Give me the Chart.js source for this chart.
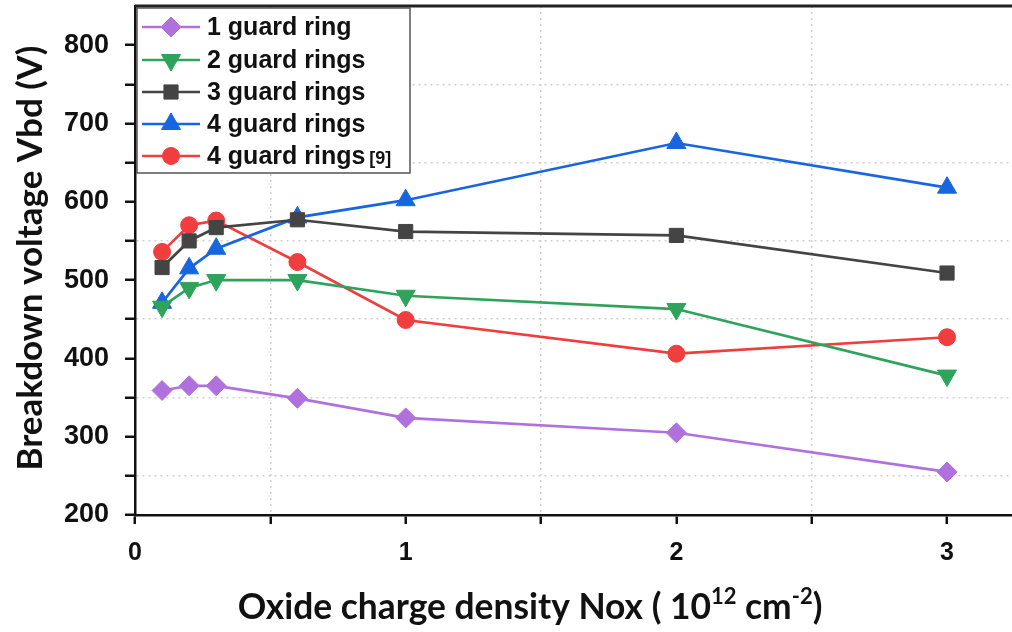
<!DOCTYPE html>
<html>
<head>
<meta charset="utf-8">
<script src="https://cdn.jsdelivr.net/npm/chart.js@4/dist/chart.umd.min.js"></script>
<style>
html,body{margin:0;padding:0;background:#fff;}
#wrap{position:relative;width:1012px;height:632px;}
</style>
</head>
<body>
<div id="wrap"><canvas id="c" width="1012" height="632"></canvas></div>
<script>
const xValues = [0.1, 0.2, 0.3, 0.6, 1, 2, 3];
const oneRing = [359, 365, 365, 349, 324, 305, 255];
const twoRings = [466, 490, 500, 500, 480, 463, 378];
const threeRings = [516, 550, 567, 577, 562, 557, 509];
const fourRings = [471, 515, 540, 580, 602, 675, 618];
const fourRingsRef = [536, 570, 576, 523, 449, 406, 427];
const seriesNames = ['1 guard ring', '2 guard rings', '3 guard rings', '4 guard rings', '4 guard rings'];
const xTickValues = [0, 0.5, 1, 1.5, 2, 2.5, 3];
const xTickLabels = ['0', '1', '2', '3'];
const yTickLabels = ['200', '300', '400', '500', '600', '700', '800'];
const yTitle = 'Breakdown voltage Vbd (V)';

const colors = ['#b171dd', '#2ea35c', '#444444', '#1766e0', '#f03e3e'];
const styles = ['rectRot', 'triangle', 'rect', 'triangle', 'circle'];
const rotations = [0, 180, 0, 0, 0];
const radii = [10, 11, 10, 11, 8.5];
const allData = [oneRing, twoRings, threeRings, fourRings, fourRingsRef];

function mk(i) {
  return {
    label: seriesNames[i],
    data: xValues.map((x, k) => ({x: x, y: allData[i][k]})),
    borderColor: colors[i],
    backgroundColor: colors[i],
    borderWidth: 2.7,
    pointStyle: styles[i],
    rotation: rotations[i],
    pointRadius: radii[i],
    pointBorderWidth: 1,
    pointBorderColor: colors[i],
    tension: 0
  };
}

const TITLE_FONT = '"Lato", "Open Sans", sans-serif';

function fitFont(ctx, text, target, weight, family) {
  ctx.font = weight + ' 20px ' + family;
  const w = ctx.measureText(text).width;
  return 20 * target / w;
}

const decor = {
  id: 'decor',
  afterDraw(chart) {
    const ctx = chart.ctx;
    const ca = chart.chartArea;
    ctx.save();
    // top frame
    ctx.strokeStyle = '#222';
    ctx.lineWidth = 3;
    ctx.beginPath();
    ctx.moveTo(ca.left, ca.top);
    ctx.lineTo(ca.right, ca.top);
    ctx.stroke();

    // legend
    const lx = 137, ly = 8, lw = 273, lh = 165;
    ctx.fillStyle = '#fff';
    ctx.fillRect(lx, ly, lw, lh);
    ctx.strokeStyle = '#555';
    ctx.lineWidth = 1.5;
    ctx.strokeRect(lx, ly, lw, lh);
    const rowY = [27, 60, 92, 124, 156];
    for (let i = 0; i < 5; i++) {
      const y = rowY[i];
      ctx.strokeStyle = colors[i];
      ctx.lineWidth = 2.7;
      ctx.beginPath();
      ctx.moveTo(142, y);
      ctx.lineTo(200, y);
      ctx.stroke();
      ctx.fillStyle = colors[i];
      ctx.strokeStyle = colors[i];
      ctx.lineWidth = 1;
      Chart.helpers.drawPoint(ctx, {pointStyle: styles[i], rotation: rotations[i], radius: radii[i], borderWidth: 1}, 171, y);
      ctx.fillStyle = '#111';
      ctx.font = 'bold 25px "Liberation Sans", Arial, sans-serif';
      ctx.textBaseline = 'middle';
      ctx.textAlign = 'left';
      ctx.fillText(seriesNames[i], 207, y + 1);
      if (i === 4) {
        const w = ctx.measureText(seriesNames[i]).width;
        ctx.font = 'bold 18px "Liberation Sans", Arial, sans-serif';
        ctx.fillText('[9]', 207 + w + 4, y + 3);
      }
    }

    // y title
    const ys = fitFont(ctx, yTitle, 425, 'bold', TITLE_FONT);
    ctx.save();
    ctx.translate(31, 258);
    ctx.rotate(-Math.PI / 2);
    ctx.fillStyle = '#111';
    ctx.font = 'bold ' + ys + 'px ' + TITLE_FONT;
    ctx.textAlign = 'center';
    ctx.textBaseline = 'middle';
    ctx.fillText(yTitle, 0, 0);
    ctx.restore();

    // x title with superscripts
    const parts = [
      ['Oxide charge density Nox ( 10', 1, 0],
      ['12', 0.62, -0.42],
      [' cm', 1, 0],
      ['-2', 0.62, -0.42],
      [')', 1, 0]
    ];
    const base = 20;
    let total = 0;
    parts.forEach(p => { ctx.font = 'bold ' + (base * p[1]) + 'px ' + TITLE_FONT; total += ctx.measureText(p[0]).width; });
    const fs = base * 585 / total;
    total = 0;
    parts.forEach(p => { ctx.font = 'bold ' + (fs * p[1]) + 'px ' + TITLE_FONT; total += ctx.measureText(p[0]).width; });
    let x = 530 - total / 2;
    ctx.fillStyle = '#111';
    ctx.textAlign = 'left';
    ctx.textBaseline = 'alphabetic';
    parts.forEach(p => {
      ctx.font = 'bold ' + (fs * p[1]) + 'px ' + TITLE_FONT;
      ctx.fillText(p[0], x, 619 + p[2] * fs);
      x += ctx.measureText(p[0]).width;
    });
    ctx.restore();
  }
};

new Chart(document.getElementById('c'), {
  type: 'line',
  data: { datasets: [0, 1, 2, 3, 4].map(mk) },
  plugins: [decor],
  options: {
    responsive: false,
    animation: false,
    layout: { autoPadding: false, padding: { top: 6, right: 0, left: 0, bottom: 0 } },
    plugins: { legend: { display: false }, tooltip: { enabled: false } },
    scales: {
      x: {
        type: 'linear',
        min: 0, max: 3.24,
        afterBuildTicks: s => { s.ticks = xTickValues.map(v => ({value: v})); },
        afterFit: s => { s.height = 117; s.paddingLeft = 0; s.paddingRight = 0; },
        ticks: {
          autoSkip: false,
          maxRotation: 0,
          padding: 14,
          color: '#111',
          font: { family: '"Liberation Sans", Arial, sans-serif', weight: 'bold', size: 25 },
          callback: v => Number.isInteger(v) ? xTickLabels[v] : ''
        },
        grid: {
          color: c => (c.tick && !Number.isInteger(c.tick.value)) ? '#cfcfcf' : 'rgba(0,0,0,0)',
          lineWidth: 1.5,
          tickColor: '#111',
          tickLength: 9,
          tickWidth: 2.5
        },
        border: { color: '#111', width: 2.5, dash: [2, 4] }
      },
      y: {
        type: 'linear',
        min: 200, max: 850,
        afterFit: s => { s.width = 135; s.paddingTop = 0; s.paddingBottom = 0; },
        ticks: {
          stepSize: 50,
          autoSkip: false,
          padding: 16,
          color: '#111',
          font: { family: '"Liberation Sans", Arial, sans-serif', weight: 'bold', size: 27 },
          callback: v => (v % 100 === 0) ? yTickLabels[(v - 200) / 100] : ''
        },
        grid: {
          color: c => (c.tick && c.tick.value % 100 === 50 && c.tick.value < 850) ? '#cfcfcf' : 'rgba(0,0,0,0)',
          lineWidth: 1.5,
          tickColor: c => (c.tick && c.tick.value < 850) ? '#111' : 'rgba(0,0,0,0)',
          tickLength: 10,
          tickWidth: 2.5
        },
        border: { color: '#111', width: 2.5, dash: [2, 4] }
      }
    }
  }
});
</script>
</body>
</html>
